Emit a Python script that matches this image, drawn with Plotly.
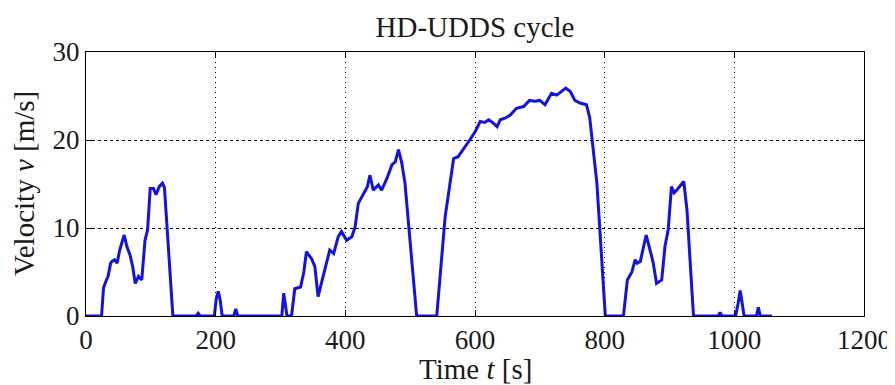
import plotly.graph_objects as go

# Time [s] and velocity [m/s]
time_s = [0, 24, 27, 29, 32, 34, 38, 40, 44, 48, 52, 56, 59, 63, 68, 72, 76, 81, 86,
          91, 95, 99, 104, 108, 113, 118, 121, 134,
          170, 173, 176, 198, 201, 204, 207, 210, 228, 231, 234,
          302, 305, 310, 317, 322, 331, 336, 340, 344, 348, 353, 358, 363, 369, 376,
          382, 389, 394, 402, 410, 415, 420, 428, 434, 438, 443, 451, 456, 464, 472,
          477, 482, 487, 492, 510,
          541, 554, 567, 574, 582, 590, 600, 608, 615, 621, 627, 634, 639, 647, 654,
          664, 675, 684, 692, 700, 708, 718, 726, 733, 740, 747, 754, 762, 772, 777,
          788, 801,
          829, 835, 842, 847, 850, 855, 860, 864, 870, 875, 880, 888, 893, 898, 903,
          907, 911, 916, 922, 927, 937,
          975, 978, 981, 1002, 1006, 1009, 1012, 1015, 1034, 1037, 1040, 1058]
velocity = [0, 0, 3.2, 3.7, 4.2, 4.5, 6.0, 6.2, 6.4, 6.0, 7.5, 8.5, 9.2, 7.9, 6.9, 5.6, 3.7, 4.5, 4.1,
            8.6, 9.8, 14.5, 14.5, 13.8, 14.7, 15.1, 14.6, 0,
            0, 0.3, 0, 0, 2.0, 2.8, 1.8, 0, 0, 0.8, 0,
            0, 2.6, 0, 0, 3.1, 3.3, 5.0, 7.3, 6.9, 6.5, 5.6, 2.2, 3.7, 5.6, 7.5,
            7.1, 9.0, 9.6, 8.6, 9.0, 10.1, 12.8, 13.8, 14.7, 16.0, 14.3, 14.9, 14.3, 15.6, 17.2,
            17.5, 18.9, 17.4, 15.1, 0,
            0, 11.3, 17.9, 18.1, 18.9, 19.8, 20.9, 22.1, 22.0, 22.3, 22.0, 21.5, 22.3, 22.5, 22.8,
            23.6, 23.8, 24.5, 24.4, 24.5, 24.0, 25.3, 25.1, 25.5, 25.9, 25.5, 24.5, 24.2, 24.0, 22.5,
            15.1, 0,
            0, 4.1, 5.0, 6.4, 6.0, 6.2, 8.0, 9.2, 7.5, 6.0, 3.7, 4.1, 7.9, 9.8, 14.7,
            14.0, 14.3, 14.7, 15.3, 12.0, 0,
            0, 0.4, 0, 0, 1.5, 2.9, 1.5, 0, 0, 1.0, 0, 0]

x_ticks = [0, 200, 400, 600, 800, 1000, 1200]
y_ticks = [0, 10, 20, 30]

FONT = "Liberation Serif"
TXT = "#1a1a1a"
W, H = 887, 377  # page body has an 8px default margin

fig = go.Figure()
fig.add_trace(go.Scatter(
    x=time_s, y=velocity, mode="lines",
    line=dict(color="rgb(18,18,225)", width=3),
    showlegend=False, hoverinfo="skip",
))

axis_common = dict(
    showline=True, linecolor="black", linewidth=1, mirror="ticks",
    ticks="inside", ticklen=6, tickcolor="black", tickwidth=1,
    showgrid=True, gridcolor="black", gridwidth=1,
    zeroline=False, automargin=False,
    tickfont=dict(family=FONT, size=27, color=TXT),
)

fig.update_layout(
    width=W, height=H,
    margin=dict(l=78, r=31, t=44, b=69),
    paper_bgcolor="white", plot_bgcolor="white",
    title=dict(text="HD-UDDS cycle", x=0.5, xref="paper", xanchor="center",
               y=1 - 19 / H, yanchor="middle",
               font=dict(family=FONT, size=29, color=TXT)),
    xaxis=dict(range=[0, 1200], tickvals=x_ticks, griddash="1px,4px", **axis_common),
    yaxis=dict(range=[0, 30], tickvals=y_ticks, griddash="3px,3px", **axis_common),
    annotations=[
        dict(text="Time <i>t</i> [s]", xref="paper", yref="paper", x=0.5, y=0,
             xanchor="center", yanchor="middle", yshift=-53, showarrow=False,
             font=dict(family=FONT, size=29, color=TXT)),
        dict(text="Velocity <i>v</i> [m/s]", xref="paper", yref="paper", x=0, y=0.5,
             xanchor="center", yanchor="middle", xshift=-62, textangle=-90,
             showarrow=False, font=dict(family=FONT, size=29, color=TXT)),
    ],
)

fig.write_html("out.html")
